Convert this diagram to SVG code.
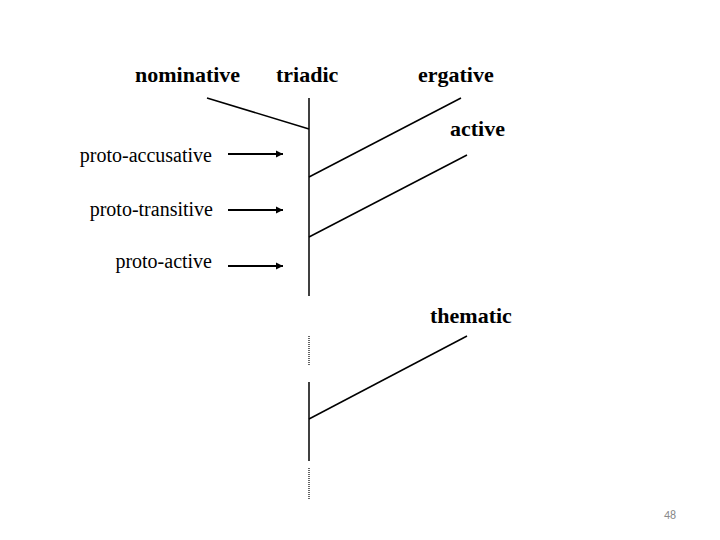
<svg xmlns="http://www.w3.org/2000/svg" width="720" height="540" viewBox="0 0 720 540">
<style>
.b{font-family:"Liberation Serif","Times New Roman",serif;font-weight:bold;font-size:22px;fill:#000}
.r{font-family:"Liberation Serif","Times New Roman",serif;font-size:20px;fill:#000}
.ln{stroke:#000;stroke-width:1.5;fill:none}
.ar{stroke:#000;stroke-width:2.2;fill:none;marker-end:url(#ah)}
.dot{stroke:#000;stroke-width:1.2;stroke-dasharray:1 1;fill:none}
</style>
<defs>
<marker id="ah" viewBox="0 0 10 10" refX="10" refY="5" markerWidth="3.6" markerHeight="3.2" orient="auto" markerUnits="strokeWidth">
<path d="M0,0 L10,5 L0,10 z" fill="#000"/>
</marker>
</defs>
<rect width="720" height="540" fill="#fff"/>
<g id="nominative"><text class="b" x="135" y="82">nominative</text></g>
<g id="triadic"><text class="b" x="276" y="82">triadic</text></g>
<g id="ergative"><text class="b" x="418" y="82">ergative</text></g>
<g id="active"><text class="b" x="450" y="136">active</text></g>
<g id="thematic"><text class="b" x="430" y="323">thematic</text></g>
<g id="proto-accusative"><text class="r" x="212" y="162" text-anchor="end">proto-accusative</text></g>
<g id="proto-transitive"><text class="r" x="213" y="216" text-anchor="end">proto-transitive</text></g>
<g id="proto-active"><text class="r" x="212" y="268" text-anchor="end">proto-active</text></g>
<g id="page-number"><text x="670" y="519" font-family="Carlito,'Liberation Sans',sans-serif" font-size="12" fill="#8a8a8a" text-anchor="middle">48</text></g>
<g id="connectors">
<line class="ln" x1="309" y1="98" x2="309" y2="296"/>
<line class="ln" x1="207" y1="98" x2="309" y2="129"/>
<line class="ln" x1="461" y1="98" x2="309" y2="177"/>
<line class="ln" x1="467" y1="155" x2="309" y2="237"/>
<line class="ar" x1="228" y1="154" x2="283" y2="154"/>
<line class="ar" x1="228" y1="210" x2="283" y2="210"/>
<line class="ar" x1="228" y1="266" x2="283" y2="266"/>
<line class="dot" x1="309" y1="336" x2="309" y2="366"/>
<line class="ln" x1="309" y1="382" x2="309" y2="461"/>
<line class="ln" x1="467" y1="336" x2="309" y2="419"/>
<line class="dot" x1="309" y1="468" x2="309" y2="499"/>
</g>
</svg>
